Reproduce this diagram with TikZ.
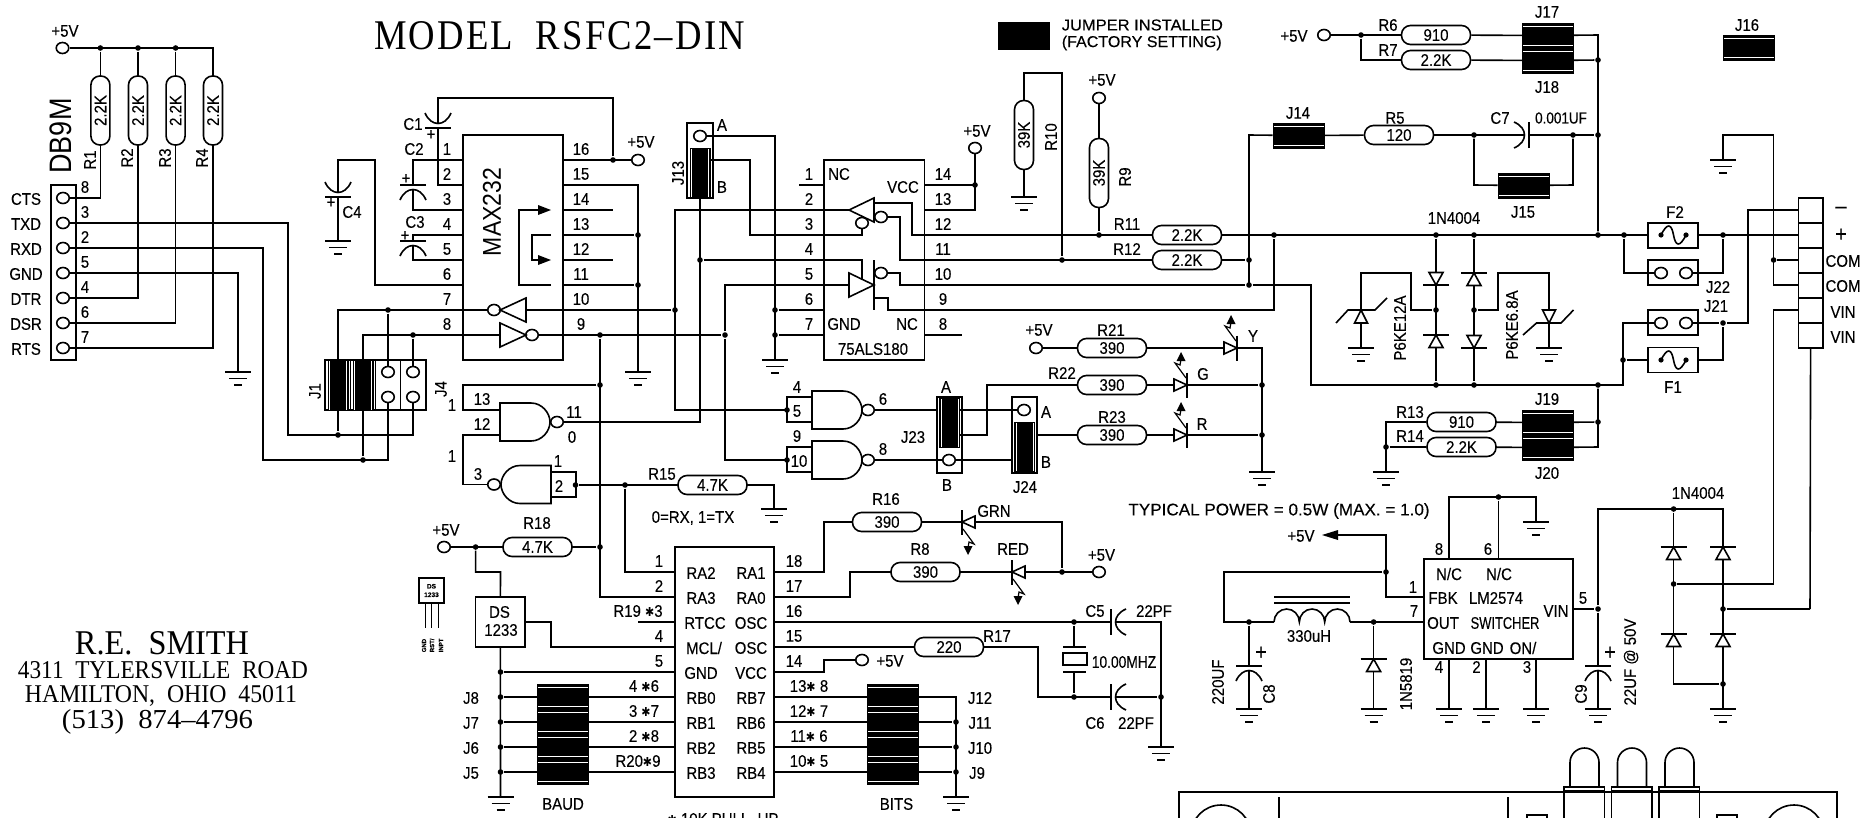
\documentclass[tikz,border=0pt]{standalone}
\usepackage{graphicx}
\usepackage{fontspec}
\setmainfont[FakeBold=0.25]{Liberation Sans}
\newfontfamily\serf{Liberation Serif}
\newfontfamily\serfs[LetterSpace=6]{Liberation Serif}
\newfontfamily\djv{DejaVu Sans}
\newfontfamily\lightsans{Liberation Sans}
\usetikzlibrary{shapes.geometric}
\newcounter{lb}
\newcommand\txf{\fontsize{15}{15}\selectfont}
\newcommand\ST{{\djv\fontsize{11}{11}\selectfont ✱}}
\newcommand\lab[3]{\stepcounter{lb}\node[tx] (t\arabic{lb}) at (#1,#2) {\scalebox{1}[1.12]{#3}};}
\newcommand\rlab[3]{\stepcounter{lb}\node[tx,rotate=90] (t\arabic{lb}) at (#1,#2) {\scalebox{1}[1.12]{#3}};}
\newcommand\Rn[4]{\node[res] (#1) at (#2,#3) {\scalebox{1}[1.12]{#4}};}
\newcommand\Rv[4]{\node[res,rotate=90] (#1) at (#2,#3) {\scalebox{1}[1.12]{#4}};}
\newcommand\jd[3]{\node[jdot] (#1) at (#2,#3) {};}
\newcommand\tm[3]{\node[term] (#1) at (#2,#3) {};}
\newcommand\gnd[2]{\draw[line width=1.7pt] (#1-13,#2)--(#1+13,#2); \draw (#1-9,#2+6.5)--(#1+9,#2+6.5); \draw[line width=1.7pt] (#1-4,#2+13)--(#1+4,#2+13);}
\newcommand\cp[3]{\begin{scope}[shift={(#1,#2)},rotate=#3]\draw (0,-13)--(0,13); \draw (15,-13) .. controls (1,-7) and (1,7) .. (15,13);\end{scope}}
\newcommand\diode[3]{\begin{scope}[shift={(#1,#2)},rotate=#3]\draw (0,-13)--(0,13); \draw[fill=white] (0,0) -- (-12.5,-7) -- (-12.5,7) -- cycle;\end{scope}}
\newcommand\led[3]{\begin{scope}[shift={(#1,#2)},rotate=#3]\draw (0,-12.5)--(0,12.5); \draw[fill=white] (0,0) -- (-13,-6) -- (-13,6) -- cycle;
 \draw[line width=1.2pt] (-1,-7)--(-12,-22)--(-7,-20)--(-6,-26); \fill (-6,-33)--(-10.5,-24)--(-1.5,-24)--cycle;\end{scope}}
\newcommand\gate[3]{\begin{scope}[shift={(#1,#2)},xscale=#3]\draw (0,-19)--(31,-19) .. controls (42,-19) and (50,-9) .. (50,0) .. controls (50,9) and (42,19) .. (31,19)--(0,19)--cycle;\end{scope}}
\newcommand\headR[2]{\fill (#1-13,#2-5)--(#1,#2)--(#1-13,#2+5)--cycle;}
\newcommand\fuse[2]{\fill (#1-12.5,#2) circle (2.6pt); \fill (#1+12.5,#2) circle (2.6pt); \draw (#1-12.5,#2) .. controls (#1-6,#2-13) and (#1-2,#2-11) .. (#1,#2) .. controls (#1+2,#2+11) and (#1+6,#2+13) .. (#1+12.5,#2);}
\tikzset{
 tx/.style={inner sep=0pt,font=\txf},
 res/.style={draw,rectangle,rounded corners=9pt,minimum width=69pt,minimum height=19pt,inner sep=0pt,font=\txf},
 jdot/.style={circle,fill=black,inner sep=0pt,minimum size=5.6pt},
 term/.style={ellipse,draw,inner sep=0pt,minimum width=12.5pt,minimum height=11pt},
 icbox/.style={draw,rectangle,inner sep=0pt},
 jmpH/.style={draw,fill=black,rectangle,inner sep=0pt,minimum width=51pt,minimum height=25pt,line width=1pt,
  path picture={\draw[white,line width=.8pt] ([yshift=-3pt]path picture bounding box.north west)--([yshift=-3pt]path picture bounding box.north east);
   \draw[white,line width=.8pt] ([yshift=3pt]path picture bounding box.south west)--([yshift=3pt]path picture bounding box.south east);}},
 jmpV/.style={draw,fill=black,rectangle,inner sep=0pt,minimum width=20pt,minimum height=50pt,line width=1pt,
  path picture={\draw[white,line width=.6pt] ([xshift=1.5pt]path picture bounding box.north west)--([xshift=1.5pt]path picture bounding box.south west);
   \draw[white,line width=.6pt] ([xshift=-1.5pt]path picture bounding box.north east)--([xshift=-1.5pt]path picture bounding box.south east);}},
}
\begin{document}
\begin{tikzpicture}[x=1pt,y=-1pt,line width=1.6pt,line join=miter]
\useasboundingbox (0,0) rectangle (1870,817);
% ---------- titles
\node[inner sep=0pt] (title) at (559.5,36) {\resizebox{371pt}{28pt}{\serfs MODEL~~RSFC2–DIN}};
\node[inner sep=0pt] (ad1) at (162,643.5) {\resizebox{174pt}{23pt}{\serf\LARGE R.E.~~SMITH}};
\node[inner sep=0pt] (ad2) at (163,670.5) {\resizebox{290pt}{17pt}{\serf 4311~~TYLERSVILLE~~ROAD}};
\node[inner sep=0pt] (ad3) at (161,695.5) {\resizebox{272pt}{17pt}{\serf HAMILTON,~~OHIO~~45011}};
\node[inner sep=0pt] (ad4) at (157.5,722) {\resizebox{191pt}{19pt}{\serf (513)~~874–4796}};
\node[draw,fill=black,inner sep=0pt,minimum width=50pt,minimum height=26pt] (legend) at (1024,36) {};
\node[tx,anchor=west] (lgA) at (1061,25) {\scalebox{1.1}[1.05]{JUMPER INSTALLED}};
\node[tx,anchor=west] (lgB) at (1061,43) {\scalebox{1.07}[1.05]{(FACTORY SETTING)}};
% ---------- DB9
\node[icbox,minimum width=25.5pt,minimum height=175pt] (DB9) at (63.5,272.5) {};
\tm{pCTS}{63}{198}\tm{pTXD}{63}{223}\tm{pRXD}{63}{248}\tm{pGND}{63}{273}\tm{pDTR}{63}{298}\tm{pDSR}{63}{323}\tm{pRTS}{63}{348}
\foreach \t/\y in {CTS/199,TXD/224,RXD/249,GND/274,DTR/299,DSR/324,RTS/349}{\lab{26}{\y}{\t}}
\foreach \t/\y in {8/187,3/212,2/237,5/262,4/287,6/312,7/337}{\lab{85}{\y}{\t}}
\node[tx,rotate=90] (db9m) at (61,136) {\scalebox{1}[1.15]{\fontsize{27}{27}\lightsans\selectfont DB9M}};
\tm{V1}{62.5}{48}\lab{65}{31}{+5V}
\jd{a1}{100.4}{48}\jd{a2}{138}{48}\jd{a3}{175.6}{48}
\Rv{R1}{100.4}{110.5}{2.2K}\Rv{R2}{138}{110.5}{2.2K}\Rv{R3}{175.6}{110.5}{2.2K}\Rv{R4}{213}{110.5}{2.2K}
\rlab{90}{160}{R1}\rlab{127}{158}{R2}\rlab{165}{158}{R3}\rlab{202}{158}{R4}
\draw (V1) -- (213,48) -- (R4);
\draw (a1)--(R1); \draw (a2)--(R2); \draw (a3)--(R3);
\draw (R1) |- (pCTS); \draw (R2) |- (pDTR); \draw (R3) |- (pDSR); \draw (R4) |- (pRTS);
\draw (pGND) -- (238,273) -- (238,372); \gnd{238}{372}
% ---------- J1 / J4
\node[icbox,minimum width=101pt,minimum height=50pt] (hdr) at (375.5,385) {};
\draw[line width=1pt] (375.6,360)--(375.6,410); \draw[line width=1pt] (400,360)--(400,410); \draw[line width=1pt] (350.5,360)--(350.5,410);
\node[jmpV] (J1a) at (338,385) {}; \node[jmpV] (J1b) at (363,385) {};
\tm{h1t}{388}{372}\tm{h1b}{388}{397}\tm{h4t}{413}{372}\tm{h4b}{413}{397}
\rlab{315}{391}{J1}\rlab{441}{389}{J4}
\jd{b1}{388}{310}\jd{b2}{413}{335}\jd{b3}{338}{435}\jd{b4}{363}{460}
\draw (pTXD) -- (288,223) -- (288,435) -- (413,435) -- (h4b);
\draw (pRXD) -- (263,248) -- (263,460) -- (388,460) -- (h1b);
\draw (J1a)--(b3); \draw (J1b)--(b4);
\draw (b1)--(h1t); \draw (b2)--(h4t);
% ---------- MAX232
\node[icbox,minimum width=100pt,minimum height=225pt] (U1) at (513,247.5) {};
\rlab{492}{212}{\fontsize{23}{23}\lightsans\selectfont MAX232}
\foreach \n/\y in {1/149,2/174,3/199,4/224,5/249,6/274,7/299,8/324}{\lab{447}{\y}{\n}}
\foreach \n/\y in {16/149,15/174,14/199,13/224,12/249,11/274,10/299,9/324}{\lab{581}{\y}{\n}}
\lab{413}{124}{C1}\lab{414}{149}{C2}\lab{415}{222}{C3}\lab{352}{212}{C4}
\lab{431}{135}{+}\lab{406}{179}{+}\lab{405}{236}{+}\lab{331}{203}{+}
\jd{dV}{613}{160}\tm{V2}{638}{160}\lab{641}{142}{+5V}
\draw (U1.east |- dV) -- (V2);
\draw (dV) -- (613,98) -- (438,98) -- (438,123);
\draw (438,128) -- (438,185) -- (463,185);
\cp{438}{128}{90}
\draw (463,160) -- (413,160) -- (413,185); \cp{413}{185}{-90}; \draw (413,190) -- (413,210) -- (463,210);
\draw (463,235) -- (413,235) -- (413,241); \cp{413}{241}{-90}; \draw (413,246) -- (413,260) -- (463,260);
\draw (338,192) -- (338,160) -- (375,160) -- (375,285) -- (463,285); \cp{338}{197}{90}; \draw (338,197)--(338,241); \gnd{338}{241}
\draw (551,285)--(519,285)--(519,210)--(540,210); \headR{551}{210}
\draw (551,235)--(532,235)--(532,260)--(540,260); \headR{551}{260}
\tm{bu1}{494}{310}\tm{bu2}{532}{335}
\draw (500,310)--(526,298)--(526,322)--cycle;
\draw (500,323)--(526,335)--(500,347)--cycle;
\jd{dc1}{675}{310}\jd{dc2}{725}{335}\jd{dc3}{600}{335}\jd{dc4}{600}{385}\jd{dc5}{600}{547}
\draw (J1a) -- (338,310) -- (bu1);
\draw (526,310) -- (dc1);
\draw (J1b) -- (363,335) -- (500,335);
\draw (bu2) -- (dc2);
\jd{dg1}{638}{235}\jd{dg2}{638}{285}
\draw (563,185) -- (638,185) -- (638,372); \gnd{638}{372}
\draw (563,235)--(dg1); \draw (563,285)--(dg2);
\draw (563,210)--(613,210); \draw (563,260)--(613,260);
\draw (dc3) -- (600,597) -- (675,597);
% ---------- J13, 75ALS180
\node[icbox,minimum width=26pt,minimum height=75pt] (J13box) at (700,160.5) {};
\tm{hA}{700}{136}
\node[jmpV,minimum height=49pt] (J13) at (700,172.5) {};
\lab{722}{125}{A}\lab{722}{187}{B}\rlab{678}{173}{J13}
\node[icbox,minimum width=100.5pt,minimum height=200pt] (U2) at (874.25,260) {};
\foreach \n/\y in {1/174,2/199,3/224,4/249,5/274,6/299,7/324}{\lab{809}{\y}{\n}}
\foreach \n/\y in {14/174,13/199,12/224,11/249,10/274,9/299,8/324}{\lab{943}{\y}{\n}}
\lab{839}{174}{NC}\lab{903}{187}{VCC}\lab{844}{324}{GND}\lab{907}{324}{NC}\lab{873}{349}{75ALS180}
\jd{e1}{775}{310}\jd{e2}{775}{335}\jd{e3}{700}{260}\jd{e4}{975}{185}
\tm{V3}{975}{148}\lab{977}{131}{+5V}
\draw (hA) -- (775,136) -- (775,360); \gnd{775}{360}
\draw (e1)--(824,310); \draw (e2)--(824,335); \draw (dc2)--(725,285)--(849,285); \draw (dc2)--(725,460)--(787,460);
\draw (799,185)--(824,185); \draw (924,335)--(962,335);
\draw (924,185)--(975,185); \draw (924,210)--(975,210)--(V3);
\tm{bu3}{862}{223}\tm{bu4}{881}{217}\tm{bu5}{881}{273}
\draw (849,210)--(874,198)--(874,222)--cycle;
\draw (849,273)--(874,285)--(849,297)--cycle;
\draw (874,260)--(874,310);
\draw (710,160)--(750,160)--(750,235)--(862,235)--(bu3);
\draw (e3)--(862,260)--(862,279);
\draw (849,210)--(675,210)--(675,410)--(787,410);
\Rn{R11}{1187}{235}{2.2K}\Rn{R12}{1187}{260}{2.2K}\lab{1127}{224}{R11}\lab{1127}{249}{R12}
\jd{f1}{1062}{260}\jd{f2}{1099}{235}\jd{f3}{1249}{260}\jd{f4}{1249}{285}\jd{f5}{1274}{235}
\draw (874,203)--(912,203)--(912,235)--(R11);
\draw (bu4)--(900,217)--(900,260)--(R12);
\draw (bu5)--(900,273)--(900,285)--(f4);
\draw (874,298)--(888,298)--(888,310)--(1274,310)--(f5);
\Rv{R10}{1024}{135}{39K}\Rv{R9}{1099}{173}{39K}\rlab{1051}{137}{R10}\rlab{1125}{177}{R9}
\draw (R10)--(1024,73)--(1062,73)--(f1); \draw (R10)--(1024,197); \gnd{1024}{197}
\tm{V4}{1099}{98}\lab{1102}{80}{+5V}
\draw (V4)--(R9); \draw (R9)--(f2);
\draw (R12)--(f3);
\draw (R11)--(1798,235);
% ---------- J14 .. J18
\node[jmpH] (J14) at (1298.5,135.5) {}; \node[jmpH] (J15) at (1523.5,185.5) {};
\node[jmpH] (J17) at (1548,35.5) {}; \node[jmpH] (J18) at (1548,60.5) {}; \node[jmpH] (J16) at (1748.5,48) {};
\lab{1298}{113}{J14}\lab{1523}{212}{J15}\lab{1547}{12}{J17}\lab{1547}{87}{J18}\lab{1747}{25}{J16}
\Rn{R5}{1399}{135}{120}\lab{1395}{118}{R5}
\Rn{R6}{1436}{35}{910}\Rn{R7}{1436}{60}{2.2K}\lab{1388}{25}{R6}\lab{1388}{50}{R7}
\lab{1500}{118}{C7}\lab{1561}{118}{\scalebox{0.9}[0.95]{0.001UF}}
\tm{V5}{1324}{35}\lab{1294}{36}{+5V}
\jd{g1}{1361}{35}\jd{g2}{1474}{135}\jd{g3}{1573}{135}\jd{g4}{1598}{135}\jd{g5}{1598}{60}\jd{g6}{1598}{235}
\draw (1249,285)--(1249,135)--(J14); \draw (J14)--(R5); \draw (R5)--(1524.5,135); \draw (1529,135)--(g4);
\cp{1529}{135}{180}
\draw (g2)--(1474,185)--(J15); \draw (J15)--(1573,185)--(g3);
\draw (V5)--(R6); \draw (g1)--(1361,60)--(R7); \draw (R6)--(J17); \draw (R7)--(J18);
\draw (J17)--(1598,35)--(g6); \draw (J18)--(g5);
% ---------- diodes, power input
\lab{1454}{218}{1N4004}
\jd{i1}{1436}{235}\jd{i2}{1474}{235}\jd{i3}{1624}{235}\jd{i4}{1723}{235}
\jd{i5}{1436}{310}\jd{i6}{1474}{310}
\jd{i7}{1436}{385}\jd{i8}{1474}{385}\jd{i9}{1598}{385}\jd{i10}{1623}{360}\jd{i11}{1723}{323}
\draw (f4)--(1311,285)--(1311,385)--(1623,385)--(1623,323)--(1648,323);
\draw (i1)--(i7); \draw (i2)--(i8);
\draw (i5)--(1411,310)--(1411,273)--(1361,273)--(1361,348); \gnd{1361}{348}
\draw (i6)--(1498,310)--(1498,273)--(1549,273)--(1549,348); \gnd{1549}{348}
\diode{1436}{285}{-90}\diode{1436}{335}{90}\diode{1474}{273}{90}\diode{1474}{348}{-90}
\draw[fill=white] (1361,310)--(1354.5,323)--(1367.5,323)--cycle;
\draw (1336,323)--(1348,310)--(1375,310)--(1387,298);
\draw[fill=white] (1549,323)--(1542.5,310)--(1555.5,310)--cycle;
\draw (1523,335)--(1536.5,323)--(1561,323)--(1573.5,310);
\rlab{1400}{328}{P6KE12A}\rlab{1512}{325}{P6KE6.8A}
\node[icbox,minimum width=50pt,minimum height=25pt] (F2) at (1673,235.5) {};
\node[icbox,minimum width=50pt,minimum height=25pt] (J22) at (1673,272.5) {};
\node[icbox,minimum width=50pt,minimum height=25pt] (J21) at (1673,322.5) {};
\node[icbox,minimum width=50pt,minimum height=25pt] (F1) at (1673,360) {};
\lab{1675}{212}{F2}\lab{1718}{287}{J22}\lab{1716}{306}{J21}\lab{1673}{387}{F1}
\fill[white] (1649,229) rectangle (1697,242);
\fuse{1673.5}{235}\fuse{1673.5}{360}
\tm{c22a}{1661}{273}\tm{c22b}{1686}{273}\tm{c21a}{1661}{323}\tm{c21b}{1686}{323}
\draw (i3)--(1624,273)--(c22a); \draw (c22b)--(1723,273)--(i4);
\draw (i10)--(F1); \draw (1698,360)--(1723,360)--(i11);
\draw (c21b)--(i11);
\draw (1623,323)--(c21a);
% ---------- connector
\node[icbox,minimum width=24.5pt,minimum height=150pt] (CN) at (1810.75,273) {};
\foreach \y in {223,248,273,298,323}{\draw (1798.5,\y)--(1823,\y);}
\lab{1841}{210}{\fontsize{20}{20}\selectfont –}\lab{1841}{235}{\fontsize{20}{20}\selectfont +}
\lab{1843}{261}{COM}\lab{1843}{286}{COM}\lab{1843}{312}{VIN}\lab{1843}{337}{VIN}
\draw (1798,210)--(1748,210)--(1748,323)--(i11);
\jd{k1}{1773.6}{260}
\draw (1723,160)--(1723,135)--(1773.6,135)--(1773.6,285)--(1798,285); \gnd{1723}{160}
\draw (k1)--(1798,260);
\draw (1798,310)--(1773.6,310)--(1773.6,584);
\draw (CN)--(1810,609);
% ---------- J19 J20
\node[jmpH] (J19) at (1548,422.5) {}; \node[jmpH] (J20) at (1548,447.5) {};
\lab{1547}{399}{J19}\lab{1547}{473}{J20}
\Rn{R13}{1461.5}{422}{910}\Rn{R14}{1461.5}{447}{2.2K}\lab{1410}{412}{R13}\lab{1410}{436}{R14}
\jd{m1}{1386}{447}\jd{m2}{1598}{422}
\draw (R13)--(1386,422)--(1386,472); \gnd{1386}{472}
\draw (m1)--(R14); \draw (R13)--(J19); \draw (R14)--(J20);
\draw (J19)--(m2); \draw (J20)--(1598,447)--(i9);
% ---------- gates
\gate{812}{410}{1}\gate{812}{460}{1}\gate{500}{422}{1}\gate{551}{484.5}{-1}
\tm{bg6}{868}{410}\tm{bg8}{868}{460}\tm{bg1}{557}{422}\tm{bg3}{494}{484.5}
\draw (812,397)--(787,397)--(787,422)--(812,422);
\draw (812,447)--(787,447)--(787,472)--(812,472);
\draw (551,472)--(576,472)--(576,497)--(551,497);
\jd{dg5}{787}{410}\jd{dg10}{787}{460}\jd{dg2i}{575.5}{485}
\draw (675,410)--(dg5); \draw (725,460)--(dg10);
\foreach \a/\x/\y in {4/797/387,5/797/411,6/883/399,9/797/436,10/799/461,8/883/449,11/574/412,0/572/437,13/482/399,12/482/424,1/452/405,1/452/456,1/558/461,2/559/486,3/478/474}{\lab{\x}{\y}{\a}}
\draw (dc4)--(463,385)--(463,410)--(500,410);
\draw (500,435)--(463,435)--(463,484.5)--(bg3);
\draw (J13)--(700,422)--(bg1);
\jd{q1}{625}{485}\Rn{R15}{712.5}{485}{4.7K}\lab{662}{474}{R15}\lab{693}{518}{0=RX, 1=TX}
\draw (dg2i)--(R15); \draw (R15)--(774,485)--(774,509); \gnd{774}{509}
\draw (q1)--(625,572)--(675,572);
% ---------- J23, J24, LEDs
\node[icbox,minimum width=25pt,minimum height=76pt] (J23box) at (949.5,435) {};
\node[icbox,minimum width=25pt,minimum height=76pt] (J24box) at (1024.5,435) {};
\node[jmpV,minimum height=49pt] (J23) at (949.5,422.5) {};
\node[jmpV,minimum height=49pt] (J24) at (1024.5,447) {};
\tm{c23}{949}{460}\tm{c24}{1024}{410}
\lab{946}{387}{A}\lab{913}{437}{J23}\lab{947}{485}{B}\lab{1046}{412}{A}\lab{1046}{462}{B}\lab{1025}{487}{J24}
\draw (bg6)--(937,410); \draw (959,410)--(c24);
\draw (bg8)--(c23); \draw (c23)--(1012,460);
\Rn{R21}{1112}{348}{390}\Rn{R22}{1112}{385}{390}\Rn{R23}{1112}{435}{390}
\lab{1111}{330}{R21}\lab{1062}{373}{R22}\lab{1112}{417}{R23}
\tm{V6}{1036}{348}\lab{1039}{330}{+5V}
\jd{n1}{1262}{385}\jd{n2}{1262}{435}
\draw (V6)--(R21); \draw (R21)--(1262,348)--(1262,472); \gnd{1262}{472}
\draw (959,435)--(987,435)--(987,385)--(R22); \draw (R22)--(n1);
\draw (1037,435)--(R23); \draw (R23)--(n2);
\led{1237}{348}{0}\led{1187}{385}{0}\led{1187}{435}{0}
\lab{1253}{336}{Y}\lab{1203}{374}{G}\lab{1202}{424}{R}
% ---------- PIC
\node[icbox,minimum width=99pt,minimum height=250pt] (U3) at (724.5,672) {};
\foreach \t/\y in {RA2/573,RA3/598,GND/673,RB0/698,RB1/723,RB2/748,RB3/773}{\lab{701}{\y}{\t}}
\lab{705}{623}{RTCC}\lab{704}{648}{MCL/}
\foreach \t/\y in {RA1/573,RA0/598,OSC/623,OSC/648,VCC/673,RB7/698,RB6/723,RB5/748,RB4/773}{\lab{751}{\y}{\t}}
\foreach \t/\y in {1/561,2/586,4/636,5/661}{\lab{659}{\y}{\t}}
\lab{638}{611}{R19 \ST 3}\lab{644}{686}{4 \ST 6}\lab{644}{711}{3 \ST 7}\lab{644}{736}{2 \ST 8}\lab{638}{761}{R20\ST 9}
\foreach \t/\y in {18/561,17/586,16/611,15/636,14/661}{\lab{794}{\y}{\t}}
\lab{809}{686}{13\ST\ 8}\lab{809}{711}{12\ST\ 7}\lab{809}{736}{11\ST\ 6}\lab{809}{761}{10\ST\ 5}
\lab{723}{819}{\ST\ 10K PULL–UP}
\draw (638,622)--(675,622);
\Rn{R16}{887}{522}{390}\Rn{R8}{925.5}{572}{390}\lab{886}{499}{R16}\lab{920}{549}{R8}
\jd{p1}{1062}{572}\tm{V7}{1099}{572}\lab{1101.5}{555}{+5V}
\draw (774,572)--(824,572)--(824,522)--(R16); \draw (R16)--(1062,522)--(p1);
\draw (774,597)--(850,597)--(850,572)--(R8); \draw (R8)--(V7);
\led{962}{522}{180}\led{1012}{572}{180}
\lab{994}{511}{GRN}\lab{1013}{549}{RED}
\jd{p2}{1074}{622}\jd{p3}{1074}{697}\jd{p4}{1161}{697}
\draw (774,622)--(1111,622); \cp{1111}{622}{0}; \draw (1116,622)--(1161,622)--(1161,747); \gnd{1161}{747}
\Rn{R17}{949}{647}{220}\lab{997}{636}{R17}
\draw (774,647)--(R17); \draw (R17)--(1038,647)--(1038,697)--(1111,697); \cp{1111}{697}{0}; \draw (1116,697)--(p4);
\draw (p2)--(1074,647); \draw (1063,647)--(1086,647); \draw (1063,672)--(1086,672); \draw (1074,672)--(p3);
\node[icbox,minimum width=24pt,minimum height=12pt] (XT) at (1075,659) {};
\lab{1095}{611}{C5}\lab{1154}{611}{22PF}\lab{1095}{723}{C6}\lab{1136}{723}{22PF}\lab{1124}{662}{\scalebox{.92}[1]{10.00MHZ}}
\tm{V8}{862}{660}\lab{890}{661}{+5V}
\draw (774,672)--(824,672)--(824,660)--(V8);
% ---------- +5V, DS1233, baud
\tm{V9}{444}{547}\lab{446}{530}{+5V}
\jd{r1}{475.6}{547}\Rn{R18}{537.5}{547}{4.7K}\lab{537}{523}{R18}
\draw (V9)--(R18); \draw (R18)--(dc5);
\node[icbox,minimum width=49.5pt,minimum height=50pt] (DS) at (500.3,622) {};
\lab{499.5}{612}{DS}\lab{501}{630}{1233}
\draw (r1)--(475.6,572)--(500.5,572)--(DS);
\draw (525,622)--(551,622)--(551,647)--(675,647);
\foreach \y/\n in {672/1,697/2,722/3,747/4,772/5}{\jd{s\n}{500.5}{\y}}
\draw (DS)--(500.5,797); \gnd{500.5}{797}
\draw (s1)--(675,672);
\draw (s2)--(675,697); \draw (s3)--(675,722); \draw (s4)--(675,747); \draw (s5)--(675,772);
\node[jmpH] (J8) at (562.5,696.5) {}; \node[jmpH] (J7) at (562.5,721.5) {}; \node[jmpH] (J6) at (562.5,746.5) {}; \node[jmpH] (J5) at (562.5,771.5) {};
\lab{471}{698}{J8}\lab{471}{723}{J7}\lab{471}{748}{J6}\lab{471}{773}{J5}\lab{563}{804}{BAUD}
\foreach \y/\n in {722/1,747/2,772/3}{\jd{u\n}{956}{\y}}
\draw (774,697)--(956,697)--(956,797); \gnd{956}{797}
\draw (774,722)--(u1); \draw (774,747)--(u2); \draw (774,772)--(u3);
\node[jmpH] (J12) at (893,696.5) {}; \node[jmpH] (J11) at (893,721.5) {}; \node[jmpH] (J10) at (893,746.5) {}; \node[jmpH] (J9) at (893,771.5) {};
\lab{980}{698}{J12}\lab{980}{723}{J11}\lab{980}{748}{J10}\lab{977}{773}{J9}\lab{896.5}{804}{BITS}
% ---------- DS1233 package
\node[icbox,line width=1.2pt,minimum width=25pt,minimum height=25pt,align=center,font=\fontsize{6.5}{8.5}\selectfont\bfseries] (DSp) at (431.5,590.5) {DS\\1233};
\draw[line width=1pt] (425,603)--(425,628); \draw[line width=1pt] (431.7,603)--(431.7,628); \draw[line width=1pt] (438,603)--(438,628);
\node[inner sep=0pt,rotate=90,anchor=west,font=\fontsize{6}{6}\selectfont\bfseries] (dsg) at (424,653) {GND};
\node[inner sep=0pt,rotate=90,anchor=west,font=\fontsize{6}{6}\selectfont\bfseries] (dsr) at (432,653) {RST/};
\node[inner sep=0pt,rotate=90,anchor=west,font=\fontsize{6}{6}\selectfont\bfseries] (dsi) at (441,653) {INPT};
% ---------- LM2574
\node[icbox,minimum width=149pt,minimum height=100pt] (U4) at (1498.5,609) {};
\lab{1449}{574}{N/C}\lab{1499}{574}{N/C}\lab{1443}{598}{FBK}\lab{1496}{598}{LM2574}\lab{1443}{623}{OUT}\lab{1505}{623}{\scalebox{.86}[1]{SWITCHER}}
\lab{1449}{648}{GND}\lab{1487}{648}{GND}\lab{1523}{648}{ON/}\lab{1556}{611}{VIN}\lab{1583}{598}{5}
\lab{1439}{549}{8}\lab{1488}{549}{6}\lab{1413}{587}{1}\lab{1414}{611}{7}\lab{1439}{667}{4}\lab{1476.5}{667}{2}\lab{1527}{667}{3}
\jd{v1}{1498.5}{497}
\draw (1449,559)--(1449,497)--(1536,497)--(1536,522); \draw (v1)--(1498.5,559); \gnd{1536}{522}
\foreach \x in {1449,1486,1536}{\draw (\x,659)--(\x,709); \gnd{\x}{709}}
\lab{1279}{511}{\scalebox{1.14}[1]{TYPICAL POWER = 0.5W (MAX. = 1.0)}}
\jd{v2}{1386}{572}\jd{v3}{1249}{622}\jd{v4}{1373.6}{622}
\draw (1424,597)--(1386,597)--(1386,535)--(1335,535); \fill (1322,535)--(1338,530)--(1338,540)--cycle;
\lab{1301}{536}{+5V}
\draw (v2)--(1224,572)--(1224,622)--(1274,622);
\draw (1350,622)--(1424,622);
\draw (1274,622) arc[start angle=180,end angle=0,x radius=12.67pt,y radius=13pt] arc[start angle=180,end angle=0,x radius=12.67pt,y radius=13pt] arc[start angle=180,end angle=0,x radius=12.67pt,y radius=13pt];
\draw (1274,597)--(1350,597); \draw (1274,603)--(1350,603);
\lab{1309}{636}{330uH}
\draw (v4)--(1373.6,709); \gnd{1373.6}{709} \diode{1373.6}{659}{90}
\rlab{1406}{684}{1N5819}
\draw (v3)--(1249,666); \cp{1249}{666}{-90}; \draw (1249,671)--(1249,709); \gnd{1249}{709}
\lab{1261}{653}{\fontsize{20}{20}\selectfont +}\rlab{1218}{682}{220UF}\rlab{1269}{694}{C8}
\jd{w1}{1598}{609}\jd{w2}{1673.6}{509}\jd{w3}{1673.6}{584}\jd{w4}{1723}{609}\jd{w5}{1723}{684}
\draw (1573,609)--(w1); \draw (w1)--(1598,509)--(1723,509)--(1723,709); \gnd{1723}{709}
\draw (w1)--(1598,666); \cp{1598}{666}{-90}; \draw (1598,671)--(1598,709); \gnd{1598}{709}
\lab{1610}{653}{\fontsize{20}{20}\selectfont +}\rlab{1581}{694}{C9}\rlab{1631}{662}{22UF @ 50V}
\draw (w2)--(1673.6,684)--(w5);
\draw (w3)--(1773.6,584); \draw (w4)--(1810,609);
\diode{1673.6}{547}{90}\diode{1723}{547}{90}\diode{1673.6}{634}{90}\diode{1723}{634}{90}
\lab{1698}{493}{1N4004}
% ---------- bottom board
\draw (1179,840)--(1179,792)--(1837,792)--(1837,840);
\draw (1279,797)--(1279,840); \draw (1508,797)--(1508,840);
\draw (1527,830)--(1527,815)--(1547,815)--(1547,830); \draw (1717,830)--(1717,815)--(1737,815)--(1737,830);
\draw (1221,835) circle (30pt); \draw (1794,835) circle (30pt);
\foreach \a in {1570,1617.5,1665}{
 \draw (\a,787)--(\a,762.5) arc[start angle=180,end angle=0,radius=14.5pt]--(\a+29,787);
 \draw (\a-6,830)--(\a-6,787)--(\a+34.5,787)--(\a+34.5,830);
 \draw (\a-6,791)--(\a+34.5,791);}
\end{tikzpicture}
\end{document}
